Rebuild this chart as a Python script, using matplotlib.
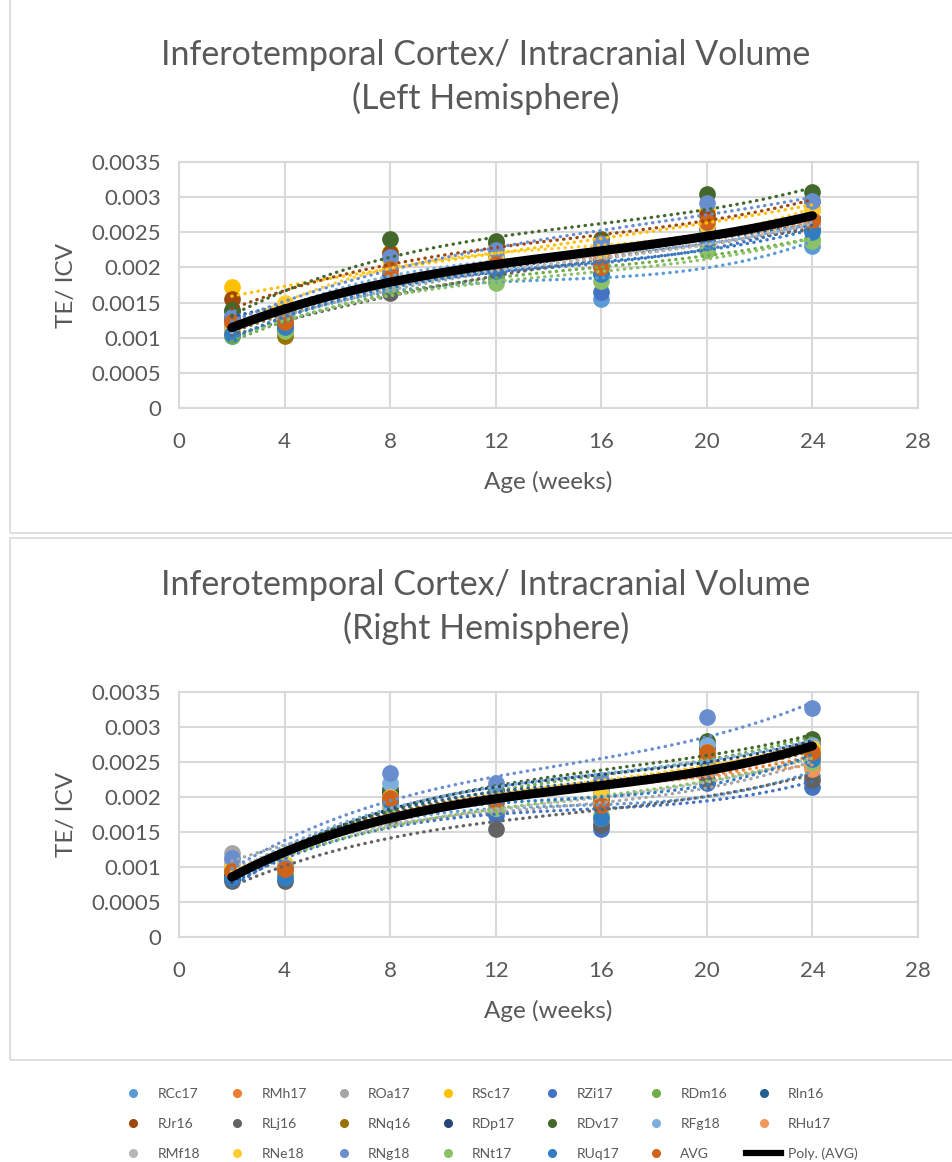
import matplotlib
matplotlib.use("Agg")
import matplotlib.pyplot as plt
from matplotlib.patches import Rectangle
from matplotlib.lines import Line2D
import numpy as np

# ages (weeks) where every animal was scanned
ages = [2, 4, 8, 12, 16, 20, 24]

names = ["RCc17", "RMh17", "ROa17", "RSc17", "RZi17", "RDm16", "RIn16",
         "RJr16", "RLj16", "RNq16", "RDp17", "RDv17", "RFg18", "RHu17",
         "RMf18", "RNe18", "RNg18", "RNt17", "RUq17", "AVG"]

colors = ["#5B9BD5", "#ED7D31", "#A5A5A5", "#FFC000", "#4472C4", "#70AD47",
          "#255E91", "#9E480E", "#636363", "#997300", "#264478", "#43682B",
          "#7CAFDD", "#F1975A", "#B7B7B7", "#FFCD33", "#698ED0", "#8CC168",
          "#327DC2", "#D0631A"]

# TE/ICV ratio (x 1e-3), left hemisphere
left = [
    [1.02, 1.15, 1.80, 1.85, 1.55, 2.25, 2.30],
    [1.20, 1.30, 1.90, 2.05, 2.05, 2.40, 2.60],
    [1.15, 1.20, 1.75, 1.95, 2.10, 2.35, 2.55],
    [1.72, 1.45, 2.22, 2.20, 2.20, 2.80, 2.85],
    [1.30, 1.20, 1.90, 2.10, 1.65, 2.55, 2.55],
    [1.02, 1.08, 1.75, 1.85, 1.90, 2.25, 2.40],
    [1.38, 1.30, 1.85, 2.00, 2.10, 2.45, 2.60],
    [1.55, 1.40, 2.20, 2.35, 2.30, 2.75, 2.95],
    [1.10, 1.12, 1.63, 1.95, 2.05, 2.35, 2.55],
    [1.25, 1.03, 1.90, 2.15, 2.10, 2.45, 2.65],
    [1.28, 1.28, 1.85, 2.10, 2.20, 2.50, 2.70],
    [1.40, 1.45, 2.40, 2.37, 2.40, 3.05, 3.07],
    [1.10, 1.35, 1.95, 2.15, 2.00, 2.50, 2.60],
    [1.20, 1.25, 1.95, 2.05, 2.15, 2.45, 2.65],
    [1.15, 1.30, 1.80, 1.95, 2.05, 2.40, 2.60],
    [1.10, 1.50, 2.10, 2.10, 2.25, 2.60, 2.80],
    [1.30, 1.35, 2.15, 2.25, 2.35, 2.92, 2.95],
    [1.05, 1.10, 1.75, 1.78, 1.80, 2.25, 2.38],
    [1.05, 1.15, 1.85, 1.95, 1.90, 2.40, 2.50],
    [1.22, 1.22, 1.98, 2.05, 2.00, 2.65, 2.68],
]

# TE/ICV ratio (x 1e-3), right hemisphere
right = [
    [0.85, 0.90, 1.90, 1.85, 1.60, 2.25, 2.30],
    [0.95, 1.00, 1.95, 1.95, 2.00, 2.45, 2.55],
    [1.20, 1.05, 1.85, 1.80, 1.65, 2.35, 2.45],
    [1.00, 1.05, 1.90, 1.80, 2.15, 2.55, 2.70],
    [0.85, 0.90, 1.80, 1.75, 1.55, 2.20, 2.15],
    [0.90, 0.95, 2.05, 2.00, 2.10, 2.75, 2.80],
    [0.95, 0.95, 2.05, 2.05, 2.05, 2.55, 2.75],
    [0.95, 1.00, 2.00, 2.00, 2.00, 2.60, 2.75],
    [0.80, 0.80, 1.70, 1.55, 1.60, 2.25, 2.25],
    [0.95, 1.00, 1.95, 1.95, 1.95, 2.55, 2.60],
    [0.90, 0.95, 2.10, 2.10, 2.10, 2.70, 2.75],
    [0.95, 1.00, 2.12, 2.05, 2.20, 2.80, 2.83],
    [1.05, 0.95, 2.20, 2.05, 2.10, 2.75, 2.75],
    [0.95, 1.00, 1.85, 1.95, 1.90, 2.50, 2.40],
    [1.10, 0.95, 1.85, 1.85, 1.70, 2.45, 2.50],
    [1.00, 1.05, 2.00, 1.95, 2.05, 2.65, 2.70],
    [1.13, 1.00, 2.35, 2.20, 2.25, 3.15, 3.27],
    [0.95, 0.90, 1.80, 1.85, 1.75, 2.45, 2.50],
    [0.85, 0.85, 1.95, 1.95, 1.70, 2.40, 2.55],
    [0.95, 0.97, 1.98, 1.93, 1.88, 2.65, 2.65],
]

yticks = [0, 0.0005, 0.001, 0.0015, 0.002, 0.0025, 0.003, 0.0035]
xticks = [0, 4, 8, 12, 16, 20, 24, 28]

plt.rcParams["font.family"] = ["Lato", "DejaVu Sans"]
txt = "#595959"
grid = "#D9D9D9"

fig = plt.figure(figsize=(9.53, 11.62), dpi=100)
W, H = 953, 1162

# panel frames
for y0, y1 in [(-5, 533), (538, 1060)]:
    fig.patches.append(Rectangle((10 / W, 1 - y1 / H), 960 / W, (y1 - y0) / H,
                                 transform=fig.transFigure, fill=False,
                                 edgecolor=grid, linewidth=1.2))


def panel(top, bot, title_y, data, side):
    ax = fig.add_axes([179 / W, 1 - bot / H, (918 - 179) / W, (bot - top) / H])
    xs = np.array(ages, dtype=float)
    fx = np.linspace(2, 24, 200)
    for name, col, vals in zip(names, colors, data):
        ys = np.array(vals) * 1e-3
        ax.plot(xs, ys, "o", color=col, markersize=11, zorder=2, clip_on=False)
    for name, col, vals in zip(names[:-1], colors[:-1], data[:-1]):
        ys = np.array(vals) * 1e-3
        c = np.polyfit(xs, ys, 3)
        ax.plot(fx, np.polyval(c, fx), color=col, linewidth=2.4,
                linestyle=(0, (0.1, 1.9)), dash_capstyle="round", zorder=3)
    ys = np.array(data[-1]) * 1e-3
    c = np.polyfit(xs, ys, 3)
    ax.plot(fx, np.polyval(c, fx), color="black", linewidth=6.5,
            solid_capstyle="round", zorder=4)

    ax.set_xlim(0, 28)
    ax.set_ylim(0, 0.0035)
    ax.set_xticks(xticks)
    ax.set_yticks(yticks)
    ax.set_yticklabels([f"{v:g}" for v in yticks])
    ax.tick_params(length=0, labelsize=16, colors=txt)
    ax.tick_params(axis="x", pad=17)
    ax.tick_params(axis="y", pad=13)
    ax.grid(True, color=grid, linewidth=1.5)
    ax.set_axisbelow(True)
    for s in ax.spines.values():
        s.set_color(grid)
        s.set_linewidth(1.5)
    ax.set_xlabel("Age (weeks)", fontsize=17.5, color=txt, labelpad=14)
    ax.set_ylabel("TE/ ICV", fontsize=17.5, color=txt, labelpad=10)
    fig.text(486 / W, 1 - title_y / H,
             f"Inferotemporal Cortex/ Intracranial Volume\n({side} Hemisphere)",
             ha="center", va="center", fontsize=24.5, color=txt, linespacing=1.38)
    return ax


panel(162, 408, 77, left, "Left")
panel(692, 937, 607, right, "Right")

# legend in Excel row order
handles = [Line2D([], [], marker="o", linestyle="none", color=c, markersize=5.5)
           for c in colors]
handles.append(Line2D([], [], color="black", linewidth=4.5))
labels = names + ["Poly. (AVG)"]
order = [r * 7 + c for c in range(7) for r in range(3)]
fig.legend([handles[i] for i in order], [labels[i] for i in order],
           loc="center", bbox_to_anchor=(487 / W, 1 - 1124 / H), ncol=7,
           frameon=False, fontsize=10, labelcolor=txt, handlelength=2.5,
           columnspacing=1.4, handletextpad=0.5, labelspacing=1.3)

fig.savefig("out.png", dpi=100, facecolor="white")
